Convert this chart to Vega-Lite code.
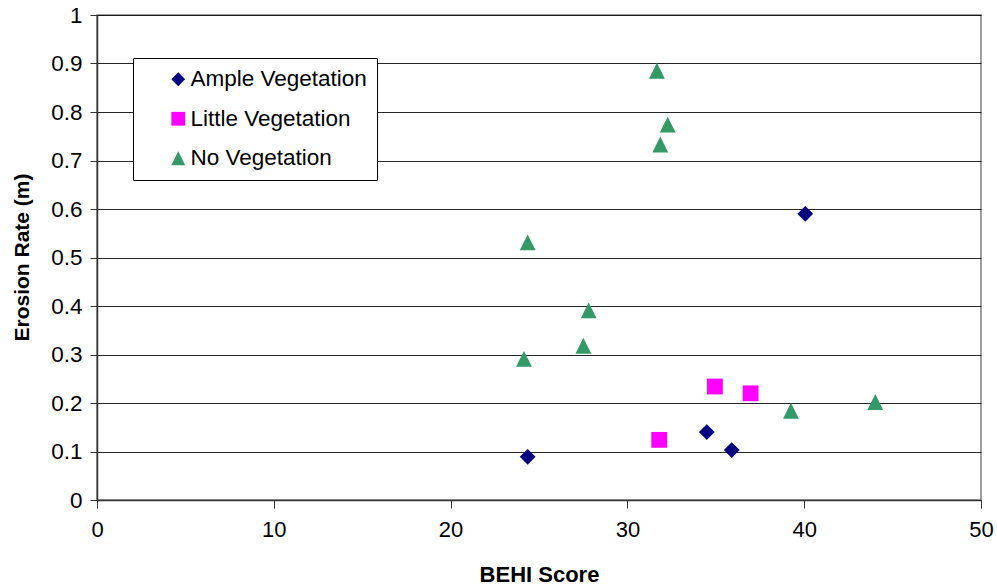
{
  "$schema": "https://vega.github.io/schema/vega-lite/v6.json",
  "autosize": {"type": "none"},
  "width": 884,
  "height": 485,
  "padding": {"left": 97, "top": 15, "right": 16, "bottom": 86},
  "background": "white",
  "config": {
    "font": "Liberation Sans",
    "view": {"stroke": "#808080", "strokeWidth": 1.5}
  },
  "data": {
    "values": [
      {"behi": 40.06, "erosion": 0.590, "veg": "Ample Vegetation"},
      {"behi": 24.36, "erosion": 0.089, "veg": "Ample Vegetation"},
      {"behi": 34.49, "erosion": 0.140, "veg": "Ample Vegetation"},
      {"behi": 35.90, "erosion": 0.103, "veg": "Ample Vegetation"},
      {"behi": 31.80, "erosion": 0.124, "veg": "Little Vegetation"},
      {"behi": 34.95, "erosion": 0.234, "veg": "Little Vegetation"},
      {"behi": 36.97, "erosion": 0.220, "veg": "Little Vegetation"},
      {"behi": 31.67, "erosion": 0.885, "veg": "No Vegetation"},
      {"behi": 32.28, "erosion": 0.774, "veg": "No Vegetation"},
      {"behi": 31.86, "erosion": 0.733, "veg": "No Vegetation"},
      {"behi": 24.36, "erosion": 0.531, "veg": "No Vegetation"},
      {"behi": 27.81, "erosion": 0.391, "veg": "No Vegetation"},
      {"behi": 27.51, "erosion": 0.318, "veg": "No Vegetation"},
      {"behi": 24.15, "erosion": 0.291, "veg": "No Vegetation"},
      {"behi": 39.25, "erosion": 0.184, "veg": "No Vegetation"},
      {"behi": 44.02, "erosion": 0.202, "veg": "No Vegetation"}
    ]
  },
  "mark": {"type": "point", "filled": true, "opacity": 1, "size": 250},
  "encoding": {
    "x": {
      "field": "behi",
      "type": "quantitative",
      "scale": {"domain": [0, 50], "nice": false, "zero": false},
      "axis": {
        "values": [0, 10, 20, 30, 40, 50],
        "grid": false,
        "title": "BEHI Score",
        "titleFontSize": 22,
        "titleFontWeight": "bold",
        "titleColor": "#000",
        "titleX": 442,
        "titleY": 74,
        "titleBaseline": "middle",
        "labelFontSize": 22,
        "labelColor": "#000",
        "labelPadding": 11,
        "tickSize": 8,
        "tickColor": "#333",
        "domainColor": "#333",
        "domainWidth": 1.5,
        "labelFlush": false
      }
    },
    "y": {
      "field": "erosion",
      "type": "quantitative",
      "scale": {"domain": [0, 1], "nice": false, "zero": true},
      "axis": {
        "values": [0, 0.1, 0.2, 0.3, 0.4, 0.5, 0.6, 0.7, 0.8, 0.9, 1],
        "format": "~g",
        "grid": true,
        "gridColor": "#000",
        "gridWidth": 1,
        "gridOpacity": 0.85,
        "title": "Erosion Rate (m)",
        "titleFontSize": 21,
        "titleFontWeight": "bold",
        "titleColor": "#000",
        "titleAngle": -90,
        "titleX": -75,
        "titleY": 242,
        "titleAlign": "center",
        "titleBaseline": "middle",
        "labelFontSize": 22.5,
        "labelColor": "#000",
        "labelPadding": 8,
        "tickSize": 7,
        "tickColor": "#333",
        "domainColor": "#333",
        "domainWidth": 1.5,
        "labelFlush": false
      }
    },
    "color": {
      "field": "veg",
      "type": "nominal",
      "scale": {
        "domain": ["Ample Vegetation", "Little Vegetation", "No Vegetation"],
        "range": ["#000080", "#FF00FF", "#339966"]
      },
      "legend": {
        "title": null,
        "orient": "none",
        "legendX": 36,
        "legendY": 43,
        "direction": "vertical",
        "fillColor": "white",
        "strokeColor": "#000",
        "padding": 10,
        "symbolOffset": 24,
        "symbolSize": 190,
        "symbolOpacity": 1,
        "labelFontSize": 22.5,
        "labelColor": "#000",
        "labelOffset": 1,
        "rowPadding": 16.5,
        "labelLimit": 400
      }
    },
    "shape": {
      "field": "veg",
      "type": "nominal",
      "scale": {
        "domain": ["Ample Vegetation", "Little Vegetation", "No Vegetation"],
        "range": ["M0,-1L1,0L0,1L-1,0Z", "square", "M-1,1L1,1L0,-1Z"]
      },
      "legend": null
    }
  }
}
